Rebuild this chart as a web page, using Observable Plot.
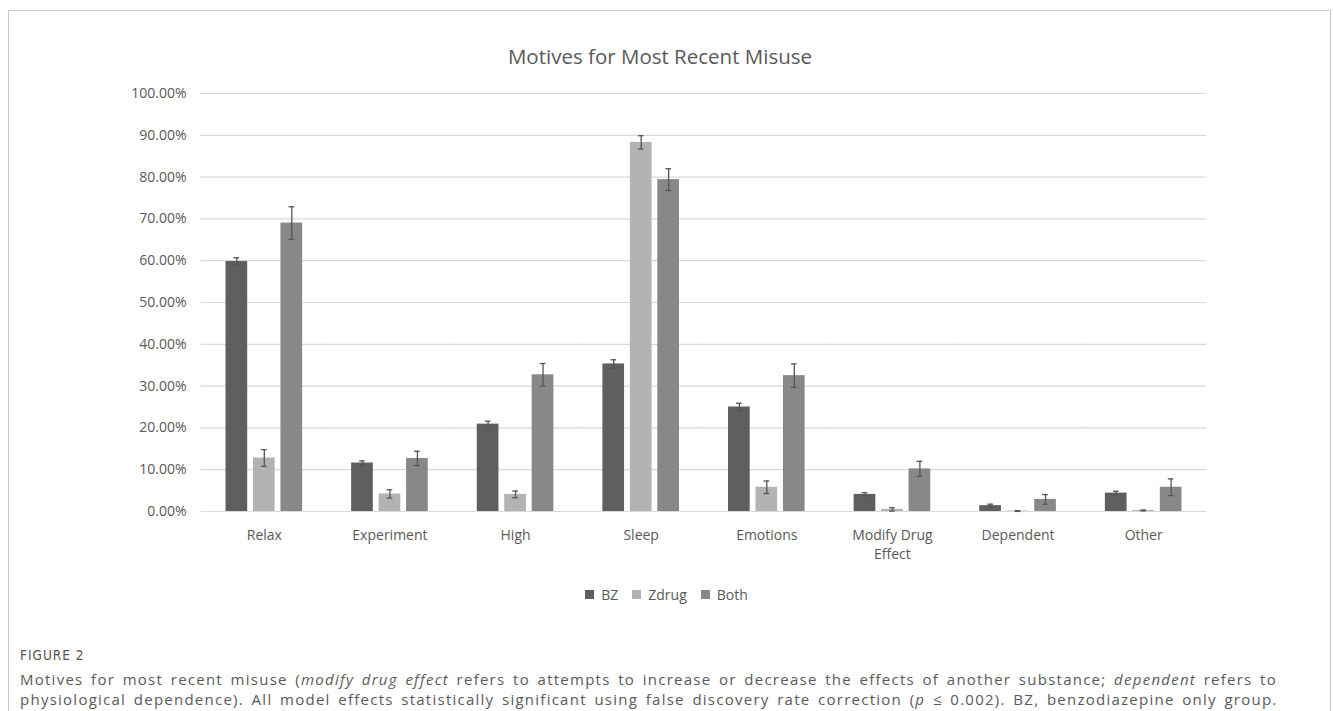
<!DOCTYPE html>
<html>
<head>
<meta charset="utf-8">
<script src="https://cdn.jsdelivr.net/npm/d3@7"></script>
<script src="https://cdn.jsdelivr.net/npm/@observablehq/plot@0.6"></script>
<style>
  html, body { margin: 0; padding: 0; background: #fff; width: 1333px; height: 711px; overflow: hidden; }
  #frame { position: absolute; left: 8px; top: 10px; width: 1321px; height: 760px; border: 1.5px solid #c8c8c8; border-bottom: none; }
  #title { position: absolute; left: 0; width: 1320px; top: 42px; text-align: center; font-family: "Open Sans", sans-serif; font-size: 20.5px; color: #595959; }
  #chart { position: absolute; left: 0; top: 70px; }
  #legend { position: absolute; left: 0; width: 1347px; top: 578px; display: flex; justify-content: center; }
  #fig { position: absolute; left: 20px; top: 647px; font-family: "DejaVu Sans Condensed", "DejaVu Sans", sans-serif; font-size: 13.5px; color: #555; letter-spacing: 1px; }
  #cap { position: absolute; left: 20px; top: 669px; white-space: nowrap; font-family: "Open Sans", sans-serif; font-size: 15px; letter-spacing: 1.25px; word-spacing: 2.5px; line-height: 20px; color: #5a5a5a; }
</style>
</head>
<body>
<div id="frame"></div>
<div id="title">Motives for Most Recent Misuse</div>
<div id="chart"></div>
<div id="legend"></div>
<div id="fig">FIGURE 2</div>
<div id="cap">Motives for most recent misuse (<i>modify drug effect</i> refers to attempts to increase or decrease the effects of another substance; <i>dependent</i> refers to<br>physiological dependence). All model effects statistically significant using false discovery rate correction (<i>p</i> ≤ 0.002). BZ, benzodiazepine only group.</div>
<script>
const categories = ["Relax", "Experiment", "High", "Sleep", "Emotions", "Modify Drug Effect", "Dependent", "Other"];
const series = ["BZ", "Zdrug", "Both"];
const colors = ["#5f5f5f", "#b3b3b3", "#888888"];
const bz       = [59.8, 11.6, 20.9, 35.3, 25.0, 4.1, 1.4, 4.4];
const bzErr    = [0.9, 0.5, 0.7, 1.0, 0.9, 0.4, 0.35, 0.45];
const zdrug    = [12.8, 4.2, 4.1, 88.3, 5.8, 0.5, 0.1, 0.25];
const zdrugErr = [2.0, 1.0, 0.8, 1.6, 1.5, 0.4, 0.08, 0.1];
const both     = [69.0, 12.7, 32.7, 79.4, 32.5, 10.2, 2.9, 5.8];
const bothErr  = [3.9, 1.7, 2.7, 2.6, 2.8, 1.8, 1.15, 2.0];
const yTicks = [0, 10, 20, 30, 40, 50, 60, 70, 80, 90, 100];

const vals = {BZ: bz, Zdrug: zdrug, Both: both};
const errs = {BZ: bzErr, Zdrug: zdrugErr, Both: bothErr};
const rows = [];
categories.forEach((c, i) => {
  series.forEach(s => {
    const v = vals[s][i], e = errs[s][i];
    rows.push({cat: c, series: s, value: v, lo: Math.max(0, v - e), hi: v + e});
  });
});
const gridRows = [];
categories.forEach(c => yTicks.forEach(t => gridRows.push({cat: c, t})));

const W = 1333, ML = 201, MR = 127;
const padIn = 0.39, padOut = 0.195;
const step = (W - ML - MR) / (categories.length - padIn + 2 * padOut);
const halfGap = step * padIn / 2;
const outer = step * padOut;

const chart = Plot.plot({
  width: W,
  height: 500,
  marginLeft: ML,
  marginRight: MR,
  marginTop: 23,
  marginBottom: 59,
  style: {fontFamily: "Open Sans, sans-serif", fontSize: "14px", color: "#595959", background: "transparent", overflow: "visible"},
  fx: {domain: categories, paddingInner: padIn, paddingOuter: padOut, round: false, label: null},
  x: {domain: series, paddingInner: 0.21, paddingOuter: 0, round: false, axis: null},
  y: {domain: [0, 100], label: null},
  color: {domain: series, range: colors},
  marks: [
    Plot.ruleY(gridRows, {fx: "cat", y: "t", stroke: "#d9d9d9", strokeWidth: 1.2, insetLeft: -halfGap - 0.5, insetRight: -halfGap - 0.5}),
    Plot.axisY({ticks: yTicks, tickFormat: d => d.toFixed(2) + "%", tickSize: 0, tickPadding: 15 + outer, label: null}),
    Plot.axisFx({anchor: "bottom", tickSize: 0, tickPadding: 15, label: null, lineHeight: 1.35,
      tickFormat: d => d.replace("Drug ", "Drug\n")}),
    Plot.barY(rows, {fx: "cat", x: "series", y: "value", fill: "series"}),
    Plot.ruleX(rows, {fx: "cat", x: "series", y1: "lo", y2: "hi", stroke: "#555", strokeWidth: 1.3}),
    Plot.tickY(rows, {fx: "cat", x: "series", y: "lo", stroke: "#555", strokeWidth: 1.3, insetLeft: 8, insetRight: 8}),
    Plot.tickY(rows, {fx: "cat", x: "series", y: "hi", stroke: "#555", strokeWidth: 1.3, insetLeft: 8, insetRight: 8})
  ]
});
document.getElementById("chart").appendChild(chart);

const leg = chart.legend("color", {swatchSize: 9, style: {fontFamily: "Open Sans, sans-serif", fontSize: "14px", color: "#595959"}});
document.getElementById("legend").appendChild(leg);
</script>
</body>
</html>
